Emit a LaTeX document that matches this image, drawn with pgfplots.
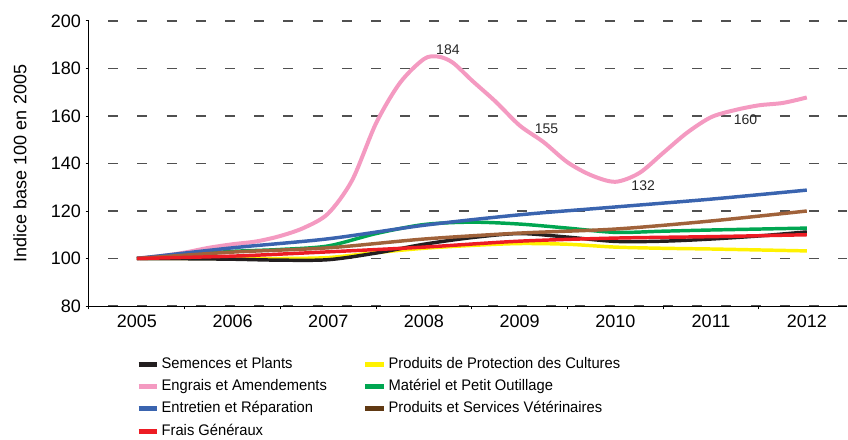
\documentclass[border=0pt]{standalone}
\usepackage{fontspec}
\setmainfont{Liberation Sans}
\newfontfamily\legfont[FakeStretch=0.96]{Liberation Sans}
\usepackage{pgfplots}
\pgfplotsset{compat=1.18}

\definecolor{cblack}{HTML}{231F20}
\definecolor{cpink}{HTML}{F49AC1}
\definecolor{cblue}{HTML}{3A64AF}
\definecolor{cred}{HTML}{ED1C24}
\definecolor{cyellow}{HTML}{FFF200}
\definecolor{cgreen}{HTML}{00A651}
\definecolor{cbrown}{HTML}{A0623A}
\definecolor{cdbrown}{HTML}{603913}
\definecolor{cgrid}{HTML}{505050}

\begin{document}
\begin{tikzpicture}
\begin{axis}[
    scale only axis,
    width=568.5pt, height=213.75pt,
    xmin=2004.5, xmax=2012.42,
    ymin=80, ymax=200,
    axis lines*=left,
    axis line style={line width=0.75pt, black},
    tick align=outside,
    major tick length=2.5pt,
    tick style={line width=0.75pt, black},
    ytick={80,100,...,200},
    xtick={2004.5,2005.5,...,2012.5},
    xticklabels={},
    extra x ticks={2005,2006,...,2012},
    extra x tick labels={2005,2006,2007,2008,2009,2010,2011,2012},
    extra x tick style={major tick length=0pt},
    ymajorgrids,
    major grid style={cgrid, line width=0.9pt, dash pattern=on 7.5pt off 14.4pt, dash phase=7.5pt},
    tick label style={font=\fontsize{13.5}{16}\selectfont},
    /pgf/number format/assume math mode=true,
    xticklabel style={yshift=-3pt},
    ylabel={Indice base 100 en 2005},
    ylabel style={at={(axis description cs:-0.091,0.5)}, anchor=center, font=\fontsize{13.5}{16}\selectfont},
    clip=false,
    every axis plot/.append style={smooth, tension=0.5, line width=2.6pt},
    legend image code/.code={\draw[#1, line width=3.75pt] (0pt,0pt) -- (14pt,0pt);},
    legend columns=2,
    legend cell align=left,
    legend style={
        at={(axis description cs:0,0)}, anchor=north west,
        xshift=35.25pt, yshift=-37pt,
        draw=none, fill=none, inner sep=0pt, outer sep=0pt,
        font=\legfont\fontsize{11.5}{13}\selectfont,
        nodes={inner sep=1pt, text height=8.5pt, text depth=2.5pt},
        row sep=3.8pt,
        /tikz/every odd column/.append style={column sep=0.5pt},
        /tikz/every even column/.append style={column sep=26pt},
    },
]
% Produits de Protection des Cultures
\addplot[cyellow, forget plot] table {
x y
2005 100
2006 100
2006.5 100
2007 100.4
2007.5 102.5
2008 104.3
2008.5 105.5
2009 106.3
2009.5 106
2010 104.8
2010.5 104.3
2011 104
2011.5 103.6
2012 103.2
};
% Semences et Plants
\addplot[cblack, forget plot] table {
x y
2005 100
2005.5 99.9
2006 99.7
2006.5 99.3
2007 99.5
2007.5 102.3
2008 106
2008.5 108.8
2009 110.5
2009.5 109
2010 107.2
2010.5 107.3
2011 108.2
2011.5 109.5
2012 111.2
};
% Engrais et Amendements
\addplot[cpink, line width=3pt, forget plot] table {
x y
2005 100
2005.25 101
2005.5 102.5
2005.75 104.5
2006 106
2006.25 107.2
2006.5 109.5
2006.75 113
2007 119
2007.25 133
2007.5 157
2007.75 174
2008 184
2008.15 185
2008.3 182.5
2008.5 175
2008.75 166
2009 156
2009.25 149
2009.5 140.5
2009.75 135
2010 132.3
2010.25 136
2010.5 144.5
2010.75 153
2011 159.5
2011.25 162.5
2011.5 164.5
2011.75 165.5
2012 167.8
};
% Materiel et Petit Outillage
\addplot[cgreen, forget plot] table {
x y
2005 100
2005.5 101.5
2006 103
2006.5 103.8
2007 105.3
2007.5 110.5
2008 114.3
2008.5 115.3
2009 114.5
2009.5 112.8
2010 111
2010.5 111.5
2011 112
2011.5 112.4
2012 112.8
};
% Entretien et Reparation
\addplot[cblue, forget plot] table {
x y
2005 100
2006 104.5
2007 108.3
2008 114
2009 118.4
2010 121.7
2011 125
2012 128.8
};
% Produits et Services Veterinaires
\addplot[cbrown, forget plot] table {
x y
2005 100
2006 102.7
2007 104.5
2008 108.2
2009 110.7
2010 112.4
2011 115.8
2012 120
};
% Frais Generaux
\addplot[cred, forget plot] table {
x y
2005 100
2006 101
2007 102.8
2008 104.8
2009 107.3
2010 108.6
2011 109.2
2012 110
};

\addlegendimage{cblack}
\addlegendentry{Semences et Plants}
\addlegendimage{cyellow}
\addlegendentry{Produits de Protection des Cultures}
\addlegendimage{cpink}
\addlegendentry{Engrais et Amendements}
\addlegendimage{cgreen}
\addlegendentry{Matériel et Petit Outillage}
\addlegendimage{cblue}
\addlegendentry{Entretien et Réparation}
\addlegendimage{cdbrown}
\addlegendentry{Produits et Services Vétérinaires}
\addlegendimage{cred}
\addlegendentry{Frais Généraux}

\begin{scope}[every node/.style={font=\fontsize{10.5}{12}\selectfont, text=black!85}]
\node at (axis cs:2008.25,187.8) {184};
\node at (axis cs:2009.28,154.5) {155};
\node at (axis cs:2010.29,130.5) {132};
\node at (axis cs:2011.36,158.3) {160};
\end{scope}
\end{axis}
\pgfresetboundingbox
\path[use as bounding box] ([shift={(-66.75pt,-99.75pt)}]current axis.south west) rectangle ([shift={(569.25pt,229.5pt)}]current axis.south west);
\end{tikzpicture}
\end{document}
